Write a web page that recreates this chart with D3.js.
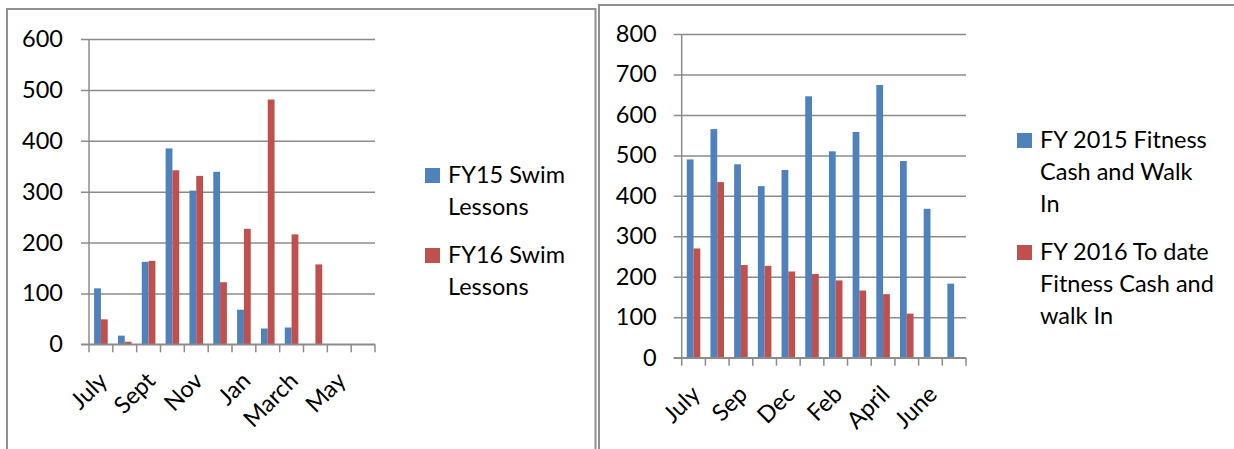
<!DOCTYPE html>
<html>
<head>
<meta charset="utf-8">
<script src="https://cdn.jsdelivr.net/npm/d3@7"></script>
<style>
  html, body { margin: 0; padding: 0; background: #fff; }
  svg { display: block; font-family: Lato, "Open Sans", sans-serif; }
</style>
</head>
<body>
<svg id="chart" width="1234" height="449"></svg>
<script>
// Swim lessons (left panel)
const swimMonths = ['July', 'Aug', 'Sept', 'Oct', 'Nov', 'Dec', 'Jan', 'Feb', 'March', 'April', 'May', 'June'];
const swimSeries = ['FY15 Swim Lessons', 'FY16 Swim Lessons'];
const swimLegendLines = [['FY15 Swim', 'Lessons'], ['FY16 Swim', 'Lessons']];
const swimFY15 = [110, 17, 162, 385, 302, 339, 68, 31, 33, 0, 0, 0];
const swimFY16 = [49, 5, 164, 342, 331, 122, 227, 481, 216, 157, 0, 0];
const swimTicks = [0, 100, 200, 300, 400, 500, 600];

// Fitness cash and walk-in (right panel)
const fitMonths = ['July', 'Aug', 'Sep', 'Oct', 'Dec', 'Jan', 'Feb', 'March', 'April', 'May', 'June', 'July'];
const fitSeries = ['FY 2015 Fitness Cash and Walk In', 'FY 2016 To date Fitness Cash and walk In'];
const fitLegendLines = [['FY 2015 Fitness', 'Cash and Walk', 'In'], ['FY 2016 To date', 'Fitness Cash and', 'walk In']];
const fit2015 = [490, 565, 478, 424, 464, 646, 510, 558, 674, 486, 368, 183];
const fit2016 = [270, 434, 229, 227, 213, 207, 191, 166, 157, 109, null, null];
const fitTicks = [0, 100, 200, 300, 400, 500, 600, 700, 800];

const colors = ['#4F81BD', '#C0504D'];
const lineColor = '#8c8c8c';
const borderColor = '#909090';
const fontSize = '23.5px';

const svg = d3.select('#chart');

// panel borders
svg.append('path')
  .attr('d', 'M7,449 V9 H595.5 V449')
  .attr('fill', 'none').attr('stroke', borderColor).attr('stroke-width', 2);
svg.append('path')
  .attr('d', 'M599,449 V5 H1240')
  .attr('fill', 'none').attr('stroke', borderColor).attr('stroke-width', 2);

function drawBars(opts) {
  const { months, values, ticks, yMax, x0, x1, yTop, yBottom, labelRight, legend } = opts;

  const x = d3.scaleBand()
    .domain(d3.range(months.length))
    .range([x0, x1])
    .padding(0);

  const xs = d3.scaleBand()
    .domain([0, 1])
    .range([0, x.bandwidth()])
    .paddingInner(0)
    .paddingOuter(0.75);

  const y = d3.scaleLinear()
    .domain([0, yMax])
    .range([yBottom, yTop]);

  // gridlines + y labels
  const gridStart = x0 - 8;
  const yAxis = svg.append('g')
    .attr('transform', `translate(${gridStart},0)`)
    .call(d3.axisLeft(y).tickValues(ticks).tickSize(-(x1 - gridStart)).tickPadding(labelRight));
  yAxis.select('.domain').remove();
  yAxis.selectAll('line').attr('stroke', lineColor).attr('stroke-width', 1.5);
  yAxis.selectAll('text')
    .attr('fill', '#000')
    .attr('font-size', fontSize)
    .attr('font-family', 'Lato, sans-serif');

  // bars
  values.forEach((series, s) => {
    svg.append('g')
      .selectAll('rect')
      .data(series.map((v, i) => ({ i, v })).filter(d => d.v))
      .enter()
      .append('rect')
      .attr('x', d => x(d.i) + xs(s))
      .attr('width', xs.bandwidth())
      .attr('y', d => y(d.v))
      .attr('height', d => y(0) - y(d.v))
      .attr('fill', colors[s]);
  });

  // axis lines
  svg.append('line')
    .attr('x1', x0).attr('x2', x0)
    .attr('y1', yTop).attr('y2', yBottom)
    .attr('stroke', lineColor).attr('stroke-width', 1.5);
  svg.append('line')
    .attr('x1', gridStart).attr('x2', x1)
    .attr('y1', yBottom).attr('y2', yBottom)
    .attr('stroke', lineColor).attr('stroke-width', 1.5);

  // category boundary ticks
  const bounds = d3.range(months.length + 1).map(i => i < months.length ? x(i) : x1);
  svg.append('g')
    .selectAll('line')
    .data(bounds)
    .enter()
    .append('line')
    .attr('x1', d => d).attr('x2', d => d)
    .attr('y1', yBottom).attr('y2', yBottom + 8)
    .attr('stroke', lineColor).attr('stroke-width', 1.5);

  // rotated month labels (every other)
  svg.append('g')
    .selectAll('text')
    .data(d3.range(0, months.length, 2))
    .enter()
    .append('text')
    .attr('transform', i => `translate(${x(i) + x.bandwidth() / 2 + 8},${yBottom + 38}) rotate(-45)`)
    .attr('text-anchor', 'end')
    .attr('font-size', fontSize)
    .attr('fill', '#000')
    .text(i => months[i]);

  // legend
  let ly = legend.y;
  legend.lines.forEach((lines, s) => {
    svg.append('rect')
      .attr('x', legend.x).attr('y', ly - 15)
      .attr('width', 15).attr('height', 15)
      .attr('fill', colors[s]);
    const t = svg.append('text')
      .attr('x', legend.x + 23)
      .attr('y', ly)
      .attr('font-size', fontSize)
      .attr('fill', '#000');
    lines.forEach((ln, k) => {
      t.append('tspan')
        .attr('x', legend.x + 23)
        .attr('y', ly + k * 32)
        .text(ln);
    });
    ly += lines.length * 32 + 16;
  });
}

drawBars({
  months: swimMonths,
  values: [swimFY15, swimFY16],
  ticks: swimTicks,
  yMax: 600,
  x0: 89, x1: 375, yTop: 39, yBottom: 344.3,
  labelRight: 18,
  legend: { x: 425, y: 183, lines: swimLegendLines }
});

drawBars({
  months: fitMonths,
  values: [fit2015, fit2016],
  ticks: fitTicks,
  yMax: 800,
  x0: 681.7, x1: 966, yTop: 34, yBottom: 357.7,
  labelRight: 17,
  legend: { x: 1017, y: 148, lines: fitLegendLines }
});
</script>
</body>
</html>
